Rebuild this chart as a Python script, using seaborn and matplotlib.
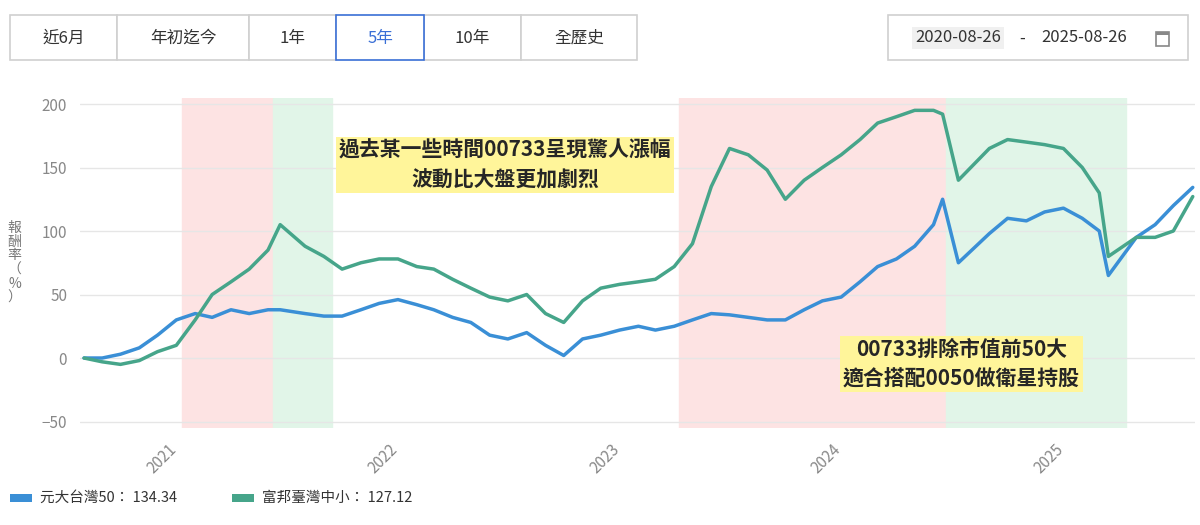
import matplotlib
matplotlib.use("Agg")
import matplotlib.pyplot as plt
import matplotlib.dates as mdates
from matplotlib.patches import Rectangle
import seaborn as sns
import pandas as pd

months = ["2020-08-26","2020-09-25","2020-10-25","2020-11-25","2020-12-25","2021-01-25","2021-02-25","2021-03-25","2021-04-25",
          "2021-05-25","2021-06-25","2021-07-15","2021-08-25","2021-09-25","2021-10-25","2021-11-25","2021-12-25",
          "2022-01-25","2022-02-25","2022-03-25","2022-04-25","2022-05-25","2022-06-25","2022-07-25","2022-08-25",
          "2022-09-25","2022-10-25","2022-11-25","2022-12-25","2023-01-25","2023-02-25","2023-03-25","2023-04-25",
          "2023-05-25","2023-06-25","2023-07-25","2023-08-25","2023-09-25","2023-10-25","2023-11-25","2023-12-25",
          "2024-01-25","2024-02-25","2024-03-25","2024-04-25","2024-05-25","2024-06-25","2024-07-10","2024-08-05",
          "2024-09-25","2024-10-25","2024-11-25","2024-12-25","2025-01-25","2025-02-25","2025-03-25","2025-04-09",
          "2025-05-25","2025-06-25","2025-07-25","2025-08-26"]
tw50 = [0,0,3,8,18,30,35,32,38,35,38,38,35,33,33,38,43,46,42,38,32,28,18,15,20,10,2,15,18,22,25,22,25,
        30,35,34,32,30,30,38,45,48,60,72,78,88,105,125,75,98,110,108,115,118,110,100,65,95,105,120,134.34]
small = [0,-3,-5,-2,5,10,30,50,60,70,85,105,88,80,70,75,78,78,72,70,62,55,48,45,50,35,28,45,55,58,60,62,72,
         90,135,165,160,148,125,140,150,160,172,185,190,195,195,192,140,165,172,170,168,165,150,130,80,95,95,100,127.12]
names = ["元大台灣50", "富邦臺灣中小"]
colors = ["#3a8fd6", "#46a58a"]
red_spans = [("2021-02-03","2021-07-04"), ("2023-05-03","2024-07-15")]
green_spans = [("2021-07-04","2021-10-08"), ("2024-07-15","2025-05-08")]
buttons = ["近6月","年初迄今","1年","5年","10年","全歷史"]

sns.set_theme(style="white")
plt.rcParams['font.family'] = ['Noto Sans CJK TC', 'DejaVu Sans']

df = pd.DataFrame({"date": pd.to_datetime(months * 2), "value": tw50 + small,
                   "series": [names[0]] * len(months) + [names[1]] * len(months)})

fig = plt.figure(figsize=(12, 5.25), dpi=100)
ax = fig.add_axes([0.067, 0.185, 0.929, 0.629])
for a, b in red_spans:
    ax.axvspan(pd.Timestamp(a), pd.Timestamp(b), color="#fde3e3", zorder=0)
for a, b in green_spans:
    ax.axvspan(pd.Timestamp(a), pd.Timestamp(b), color="#e1f5e8", zorder=0)
sns.lineplot(data=df, x="date", y="value", hue="series", palette=colors, lw=2.5, ax=ax, legend=False)
ax.set_ylim(-55, 205)
ax.set_xlim(pd.Timestamp("2020-08-20"), pd.Timestamp("2025-08-30"))
ax.set_yticks([-50, 0, 50, 100, 150, 200])
ax.yaxis.grid(True, color="#e6e6e6", lw=1)
for s in ax.spines.values():
    s.set_visible(False)
ax.xaxis.set_major_locator(mdates.YearLocator())
ax.xaxis.set_major_formatter(mdates.DateFormatter("%Y"))
ax.tick_params(axis="x", labelrotation=45, labelsize=11, colors="#888888")
ax.tick_params(axis="y", labelsize=11, colors="#888888")
ax.set_xlabel(""); ax.set_ylabel("")
fig.text(0.012, 0.5, "報\n酬\n率\n（\n%\n）", fontsize=10, color="#777777", va="center", ha="center", linespacing=1.0)

ax.text(pd.Timestamp("2022-07-20"), 152, "過去某一些時間00733呈現驚人漲幅\n波動比大盤更加劇烈", fontsize=15,
        fontweight="bold", ha="center", va="center", linespacing=1.5,
        bbox=dict(facecolor="#fff59a", edgecolor="none", pad=2))
ax.text(pd.Timestamp("2024-08-10"), -5, "00733排除市值前50大\n適合搭配0050做衛星持股", fontsize=15,
        fontweight="bold", ha="center", va="center", linespacing=1.5,
        bbox=dict(facecolor="#fff59a", edgecolor="none", pad=2))

# buttons
edges = [10, 117, 249, 336, 424, 521, 637]
for i, lab in enumerate(buttons):
    x0, x1 = edges[i], edges[i + 1]
    sel = lab == "5年"
    fig.patches.append(Rectangle((x0 / 1200, 1 - 60 / 525), (x1 - x0) / 1200, 45 / 525, transform=fig.transFigure,
                                 facecolor="white", edgecolor="#3a6fd6" if sel else "#d0d0d0", lw=1.2, zorder=3 if sel else 2))
    fig.text((x0 + x1) / 2400, 1 - 38 / 525, lab, ha="center", va="center", fontsize=12,
             color="#3a6fd6" if sel else "#333333")
fig.patches.append(Rectangle((888 / 1200, 1 - 60 / 525), 300 / 1200, 45 / 525, transform=fig.transFigure,
                             facecolor="white", edgecolor="#d0d0d0", lw=1.2))
fig.text(958 / 1200, 1 - 38 / 525, "2020-08-26", ha="center", va="center", fontsize=12, color="#333333",
         bbox=dict(facecolor="#f0f0f0", edgecolor="none", pad=2))
fig.text(1022 / 1200, 1 - 38 / 525, "-", ha="center", va="center", fontsize=12, color="#333333")
fig.text(1084 / 1200, 1 - 38 / 525, "2025-08-26", ha="center", va="center", fontsize=12, color="#333333")
# calendar icon
fig.patches.append(Rectangle((1156 / 1200, 1 - 46 / 525), 13 / 1200, 14 / 525, transform=fig.transFigure,
                             facecolor="none", edgecolor="#888888", lw=1.2))
fig.patches.append(Rectangle((1156 / 1200, 1 - 35 / 525), 13 / 1200, 3 / 525, transform=fig.transFigure,
                             facecolor="#888888", edgecolor="none"))

# legend
for lx, name, c, v in [(10, names[0], colors[0], tw50[-1]), (232, names[1], colors[1], small[-1])]:
    fig.patches.append(Rectangle((lx / 1200, 1 - 502 / 525), 22 / 1200, 8 / 525, transform=fig.transFigure,
                                 facecolor=c, edgecolor="none"))
    fig.text((lx + 30) / 1200, 1 - 498 / 525, f"{name}： {v:.2f}", va="center", fontsize=10.5, color="#333333")

fig.savefig("out.png", dpi=100)
